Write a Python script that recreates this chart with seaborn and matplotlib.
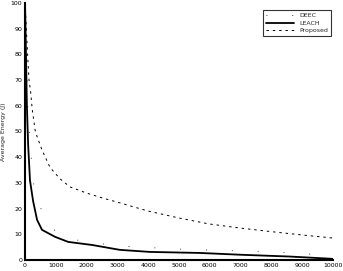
import pandas as pd
import matplotlib.pyplot as plt
import seaborn as sns

# rounds (x) and energy values
leach_x = [0, 30, 60, 100, 160, 260, 390, 550, 970, 1400, 2180, 3080, 4060, 5680, 7000, 8600, 10000]
leach_y = [100, 80, 60, 45, 31, 23, 15.6, 11.7, 9, 7, 5.8, 3.9, 3.1, 2.7, 2.0, 1.3, 0.4]

deec_x = [0, 100, 270, 590, 1000, 1360, 2000, 3000, 4000, 5000, 6000, 7000, 8000, 9000, 10000]
deec_y = [100, 55, 30, 17, 11, 8.5, 7, 5.5, 4.8, 4.2, 3.8, 3.5, 3.2, 2.5, 1.5]

prop_x = [0, 50, 100, 130, 185, 230, 325, 390, 550, 810, 1140, 1460, 2000, 2540, 2990,
          4000, 5000, 5970, 6980, 7990, 8990, 10000]
prop_y = [100, 88, 76, 70, 65, 59, 50.6, 48, 42.8, 36, 31.5, 28.4, 26, 24, 22.5,
          19, 16.3, 14, 12.4, 11, 9.7, 8.5]

xticks = list(range(0, 10001, 1000))
yticks = list(range(0, 101, 10))

sns.set_style("white")
plt.rcParams['font.family'] = ['DejaVu Sans']

fig, ax = plt.subplots(figsize=(3.43, 2.71), dpi=100)
fig.subplots_adjust(left=0.073, right=0.971, bottom=0.041, top=0.989)

sns.lineplot(x=deec_x, y=deec_y, ax=ax, color='black', lw=0.6,
             linestyle=(0, (1, 30)), label='DEEC')
sns.lineplot(x=leach_x, y=leach_y, ax=ax, color='black', lw=1.3, label='LEACH')
sns.lineplot(x=prop_x, y=prop_y, ax=ax, color='black', lw=0.7,
             linestyle=(0, (2.5, 4)), label='Proposed')

ax.set_xlim(0, 10000)
ax.set_ylim(0, 100)
ax.set_xticks(xticks)
ax.set_yticks(yticks)
ax.tick_params(direction='in', length=2.5, width=0.8, labelsize=4.5, pad=2, colors='black')
ax.set_ylabel('Average Energy (J)', fontsize=4.5, labelpad=3)
ax.set_xlabel('')

sns.despine(ax=ax)
for s in ['left', 'bottom']:
    ax.spines[s].set_linewidth(1.5)
    ax.spines[s].set_color('black')

leg = ax.legend(loc='upper right', bbox_to_anchor=(1.005, 0.985), fontsize=4.5,
                frameon=True, fancybox=False, edgecolor='black', handlelength=4.5,
                borderpad=0.5, labelspacing=0.3)
leg.get_frame().set_linewidth(0.8)

plt.savefig("out.png", dpi=100)
